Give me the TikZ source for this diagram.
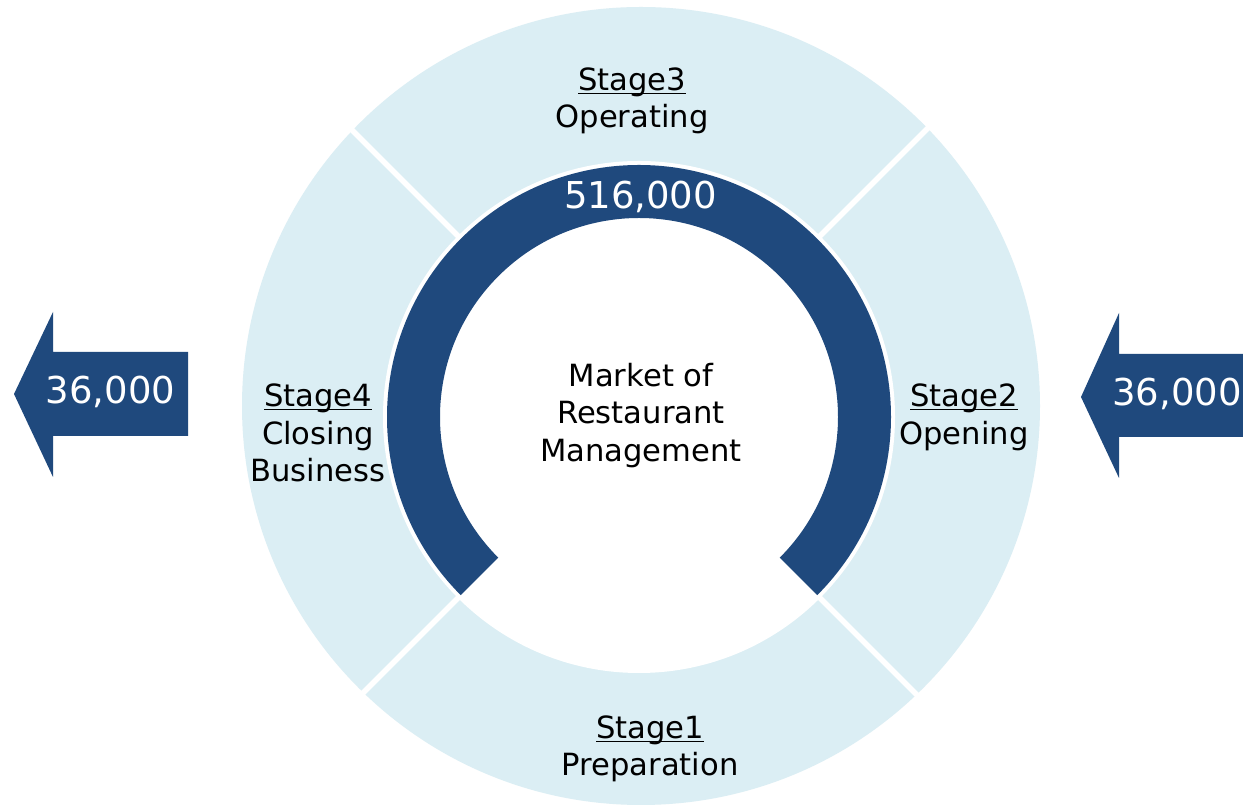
\documentclass[tikz,border=0pt]{standalone}
\usepackage{fontspec}
\usetikzlibrary{calc}
\setmainfont{DejaVu Sans}
\definecolor{darkblue}{RGB}{31,73,125}
\definecolor{lightblue}{RGB}{219,238,244}
\newcommand\stul[1]{\leavevmode\setbox0\hbox{#1}\rlap{\rule[-3.5pt]{\wd0}{1.6pt}}\box0}
\begin{document}
\begin{tikzpicture}[x=1pt,y=1pt,
  lbl/.style={anchor=base,inner sep=0pt,font=\fontsize{30.6}{36}\selectfont,text=black},
  num/.style={anchor=base,inner sep=0pt,font=\fontsize{37}{44}\selectfont,text=white}]
\useasboundingbox (0,0) rectangle (1243,808);
\fill[white] (0,0) rectangle (1243,808);
\coordinate (oc) at (641,402);
\coordinate (c) at (639,391);
% outer light ring
\fill[lightblue] (oc) circle[radius=399];
% separators
\foreach \a in {45,135,225,315}
  \draw[white,line width=5.5pt] ($(c)+(\a:200)$) -- ($(c)+(\a:430)$);
% hole
\fill[white] (c) circle[radius=256];
% dark arc
\fill[darkblue] ($(c)+(225:252)$) arc[start angle=225,end angle=-45,radius=252]
  -- ($(c)+(-45:199)$) arc[start angle=-45,end angle=225,radius=199] -- cycle;
% arrows
\fill[darkblue] (14,414) -- (53,496) -- (53,456) -- (188,456) -- (188,372) -- (53,372) -- (53,331) -- cycle;
\fill[darkblue] (1081,411) -- (1119,495) -- (1119,454) -- (1250,454) -- (1250,371) -- (1119,371) -- (1119,330) -- cycle;
% texts
\node[num] (numL) at (110.5,404) {36,000};
\node[num] (numR) at (1177,402) {36,000};
\node[num] (numT) at (640.5,599) {516,000};
\node[lbl] (s3a) at (632,717) {\stul{Stage3}};
\node[lbl] (s3b) at (632,680) {Operating};
\node[lbl] (s1a) at (650,69) {\stul{Stage1}};
\node[lbl] (s1b) at (650,32) {Preparation};
\node[lbl] (s4a) at (318,401) {\stul{Stage4}};
\node[lbl] (s4b) at (318,363) {Closing};
\node[lbl] (s4c) at (318,326) {Business};
\node[lbl] (s2a) at (964,401) {\stul{Stage2}};
\node[lbl] (s2b) at (964,363) {Opening};
\node[lbl] (m1) at (641,421) {Market of};
\node[lbl] (m2) at (641,384) {Restaurant};
\node[lbl] (m3) at (641,346) {Management};
\end{tikzpicture}
\end{document}
